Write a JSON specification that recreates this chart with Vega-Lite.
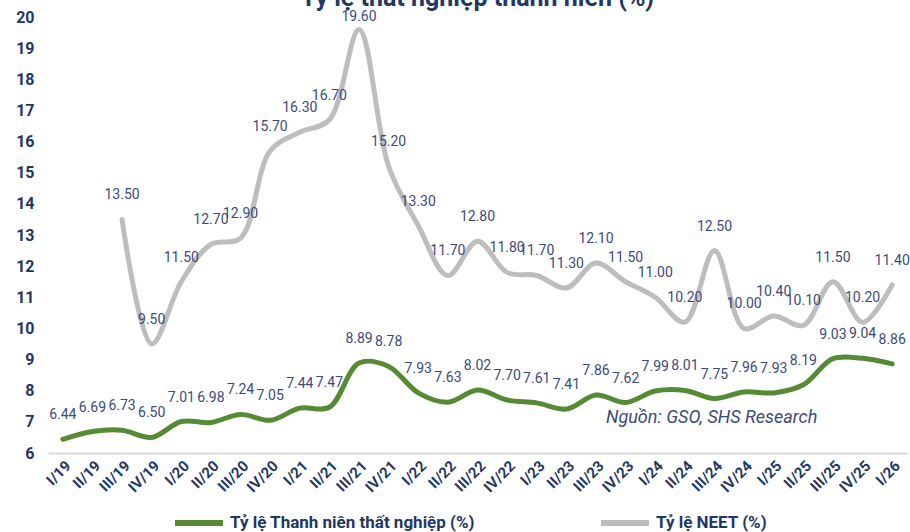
{
  "$schema": "https://vega.github.io/schema/vega-lite/v6.json",
  "width": 859,
  "height": 436,
  "autosize": {"type": "none"},
  "padding": {"left": 48, "top": 17, "right": 3, "bottom": 79},
  "background": "white",
  "title": {"text": "Tỷ lệ thất nghiệp thanh niên (%)", "fontSize": 25, "font": "Roboto", "fontWeight": "bold", "color": "#1f3864", "anchor": "middle", "offset": -2},
  "config": {
    "view": {"stroke": null},
    "font": "Roboto",
    "axisX": {"title": null, "labelAngle": -45, "labelFontSize": 15, "labelFontWeight": "bold", "labelColor": "#1f3864", "ticks": false, "domainColor": "#d9d9d9", "domainWidth": 2, "labelPadding": 5, "grid": false, "labelOverlap": false},
    "axisY": {"title": null, "ticks": false, "domain": false, "grid": false, "labelFontSize": 16, "labelFontWeight": "bold", "labelColor": "#1f3864", "labelPadding": 14, "labelOverlap": false}
  },
  "datasets": {
    "note": [{"note": "Nguồn: GSO, SHS Research"}],
    "main": [
    {"q": "I/19", "series": "Tỷ lệ Thanh niên thất nghiệp (%)", "value": 6.44},
    {"q": "II/19", "series": "Tỷ lệ Thanh niên thất nghiệp (%)", "value": 6.69},
    {"q": "III/19", "series": "Tỷ lệ Thanh niên thất nghiệp (%)", "value": 6.73},
    {"q": "IV/19", "series": "Tỷ lệ Thanh niên thất nghiệp (%)", "value": 6.50},
    {"q": "I/20", "series": "Tỷ lệ Thanh niên thất nghiệp (%)", "value": 7.01},
    {"q": "II/20", "series": "Tỷ lệ Thanh niên thất nghiệp (%)", "value": 6.98},
    {"q": "III/20", "series": "Tỷ lệ Thanh niên thất nghiệp (%)", "value": 7.24},
    {"q": "IV/20", "series": "Tỷ lệ Thanh niên thất nghiệp (%)", "value": 7.05},
    {"q": "I/21", "series": "Tỷ lệ Thanh niên thất nghiệp (%)", "value": 7.44},
    {"q": "II/21", "series": "Tỷ lệ Thanh niên thất nghiệp (%)", "value": 7.47},
    {"q": "III/21", "series": "Tỷ lệ Thanh niên thất nghiệp (%)", "value": 8.89},
    {"q": "IV/21", "series": "Tỷ lệ Thanh niên thất nghiệp (%)", "value": 8.78},
    {"q": "I/22", "series": "Tỷ lệ Thanh niên thất nghiệp (%)", "value": 7.93},
    {"q": "II/22", "series": "Tỷ lệ Thanh niên thất nghiệp (%)", "value": 7.63},
    {"q": "III/22", "series": "Tỷ lệ Thanh niên thất nghiệp (%)", "value": 8.02},
    {"q": "IV/22", "series": "Tỷ lệ Thanh niên thất nghiệp (%)", "value": 7.70},
    {"q": "I/23", "series": "Tỷ lệ Thanh niên thất nghiệp (%)", "value": 7.61},
    {"q": "II/23", "series": "Tỷ lệ Thanh niên thất nghiệp (%)", "value": 7.41},
    {"q": "III/23", "series": "Tỷ lệ Thanh niên thất nghiệp (%)", "value": 7.86},
    {"q": "IV/23", "series": "Tỷ lệ Thanh niên thất nghiệp (%)", "value": 7.62},
    {"q": "I/24", "series": "Tỷ lệ Thanh niên thất nghiệp (%)", "value": 7.99},
    {"q": "II/24", "series": "Tỷ lệ Thanh niên thất nghiệp (%)", "value": 8.01},
    {"q": "III/24", "series": "Tỷ lệ Thanh niên thất nghiệp (%)", "value": 7.75},
    {"q": "IV/24", "series": "Tỷ lệ Thanh niên thất nghiệp (%)", "value": 7.96},
    {"q": "I/25", "series": "Tỷ lệ Thanh niên thất nghiệp (%)", "value": 7.93},
    {"q": "II/25", "series": "Tỷ lệ Thanh niên thất nghiệp (%)", "value": 8.19},
    {"q": "III/25", "series": "Tỷ lệ Thanh niên thất nghiệp (%)", "value": 9.03},
    {"q": "IV/25", "series": "Tỷ lệ Thanh niên thất nghiệp (%)", "value": 9.04},
    {"q": "I/26", "series": "Tỷ lệ Thanh niên thất nghiệp (%)", "value": 8.86},
    {"q": "III/19", "series": "Tỷ lệ NEET (%)", "value": 13.50},
    {"q": "IV/19", "series": "Tỷ lệ NEET (%)", "value": 9.50},
    {"q": "I/20", "series": "Tỷ lệ NEET (%)", "value": 11.50},
    {"q": "II/20", "series": "Tỷ lệ NEET (%)", "value": 12.70},
    {"q": "III/20", "series": "Tỷ lệ NEET (%)", "value": 12.90},
    {"q": "IV/20", "series": "Tỷ lệ NEET (%)", "value": 15.70},
    {"q": "I/21", "series": "Tỷ lệ NEET (%)", "value": 16.30},
    {"q": "II/21", "series": "Tỷ lệ NEET (%)", "value": 16.70},
    {"q": "III/21", "series": "Tỷ lệ NEET (%)", "value": 19.60},
    {"q": "IV/21", "series": "Tỷ lệ NEET (%)", "value": 15.20},
    {"q": "I/22", "series": "Tỷ lệ NEET (%)", "value": 13.30},
    {"q": "II/22", "series": "Tỷ lệ NEET (%)", "value": 11.70},
    {"q": "III/22", "series": "Tỷ lệ NEET (%)", "value": 12.80},
    {"q": "IV/22", "series": "Tỷ lệ NEET (%)", "value": 11.80},
    {"q": "I/23", "series": "Tỷ lệ NEET (%)", "value": 11.70},
    {"q": "II/23", "series": "Tỷ lệ NEET (%)", "value": 11.30},
    {"q": "III/23", "series": "Tỷ lệ NEET (%)", "value": 12.10},
    {"q": "IV/23", "series": "Tỷ lệ NEET (%)", "value": 11.50},
    {"q": "I/24", "series": "Tỷ lệ NEET (%)", "value": 11.00},
    {"q": "II/24", "series": "Tỷ lệ NEET (%)", "value": 10.20},
    {"q": "III/24", "series": "Tỷ lệ NEET (%)", "value": 12.50},
    {"q": "IV/24", "series": "Tỷ lệ NEET (%)", "value": 10.00},
    {"q": "I/25", "series": "Tỷ lệ NEET (%)", "value": 10.40},
    {"q": "II/25", "series": "Tỷ lệ NEET (%)", "value": 10.10},
    {"q": "III/25", "series": "Tỷ lệ NEET (%)", "value": 11.50},
    {"q": "IV/25", "series": "Tỷ lệ NEET (%)", "value": 10.20},
    {"q": "I/26", "series": "Tỷ lệ NEET (%)", "value": 11.40}
    ]
  },
  "layer": [
    {
      "data": {"name": "main"},
      "mark": {"type": "line", "interpolate": "catmull-rom", "strokeWidth": 5, "strokeCap": "round"},
      "encoding": {
        "x": {
          "field": "q", "type": "ordinal",
          "scale": {"type": "point", "padding": 0.5, "domain": ["I/19","II/19","III/19","IV/19","I/20","II/20","III/20","IV/20","I/21","II/21","III/21","IV/21","I/22","II/22","III/22","IV/22","I/23","II/23","III/23","IV/23","I/24","II/24","III/24","IV/24","I/25","II/25","III/25","IV/25","I/26"]}
        },
        "y": {
          "field": "value", "type": "quantitative",
          "scale": {"domain": [6, 20], "nice": false, "zero": false},
          "axis": {"values": [6,7,8,9,10,11,12,13,14,15,16,17,18,19,20]}
        },
        "color": {
          "field": "series", "type": "nominal",
          "scale": {"domain": ["Tỷ lệ Thanh niên thất nghiệp (%)", "Tỷ lệ NEET (%)"], "range": ["#568a35", "#bdbdbd"]},
          "legend": {"title": null, "orient": "none", "legendX": 124, "legendY": 479, "direction": "horizontal", "symbolType": "stroke", "symbolStrokeWidth": 6, "symbolSize": 2300, "labelFontSize": 17, "labelFontWeight": "bold", "labelColor": "#1f3864", "labelLimit": 400, "columnPadding": 113, "labelOffset": 4}
        }
      }
    },
    {
      "data": {"name": "main"},
      "transform": [{"filter": "datum.value < 19"}],
      "mark": {"type": "text", "dy": -24, "fontSize": 14, "color": "#3c4a7d"},
      "encoding": {
        "x": {"field": "q", "type": "ordinal"},
        "y": {"field": "value", "type": "quantitative", "axis": {"values": [6,7,8,9,10,11,12,13,14,15,16,17,18,19,20]}},
        "text": {"field": "value", "type": "quantitative", "format": ".2f"}
      }
    },
    {
      "data": {"name": "main"},
      "transform": [{"filter": "datum.value >= 19"}],
      "mark": {"type": "text", "dy": -12, "fontSize": 14, "color": "#3c4a7d"},
      "encoding": {
        "x": {"field": "q", "type": "ordinal"},
        "y": {"field": "value", "type": "quantitative", "axis": {"values": [6,7,8,9,10,11,12,13,14,15,16,17,18,19,20]}},
        "text": {"field": "value", "type": "quantitative", "format": ".2f"}
      }
    },
    {
      "data": {"name": "note"},
      "mark": {"type": "text", "fontStyle": "italic", "fontSize": 18, "color": "#3c4a7d", "align": "left", "baseline": "middle", "dx": 10},
      "encoding": {
        "x": {"datum": "III/23"},
        "y": {"datum": 7.12, "axis": {"values": [6,7,8,9,10,11,12,13,14,15,16,17,18,19,20]}},
        "text": {"field": "note", "type": "nominal"}
      }
    }
  ]
}
